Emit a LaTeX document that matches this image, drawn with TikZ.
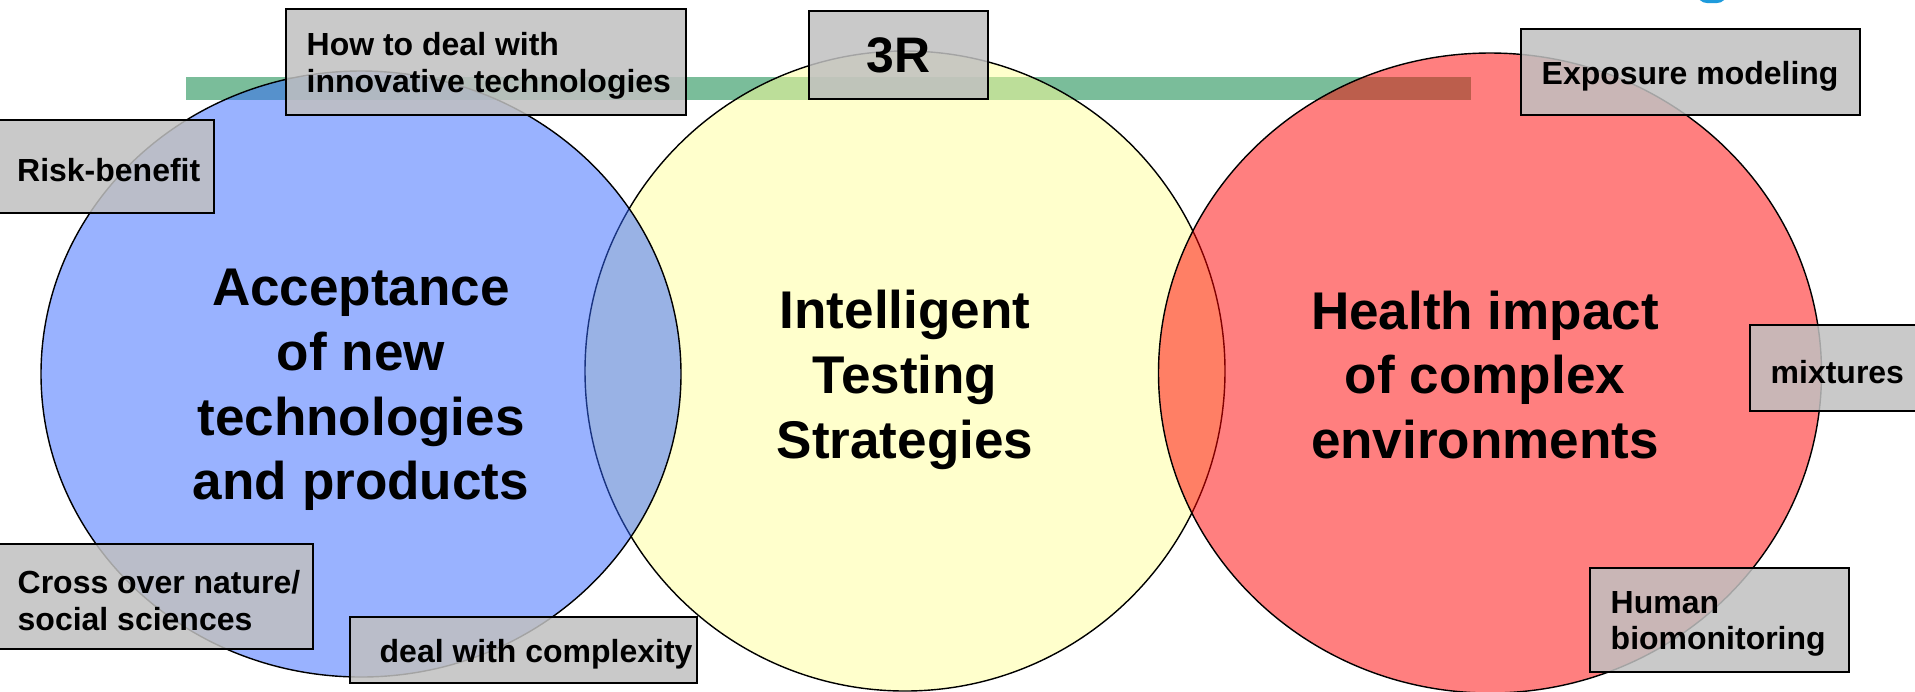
\documentclass[tikz,border=0pt]{standalone}
\usepackage{fontspec}
\setmainfont{Liberation Sans}
\usetikzlibrary{shapes.geometric,positioning}
\definecolor{barGreen}{HTML}{7ABD9A}
\definecolor{setBlue}{HTML}{3366FF}
\definecolor{setYellow}{HTML}{FFFF99}
\definecolor{setRed}{HTML}{FF0000}
\definecolor{tagGrey}{HTML}{C0C0C0}
\definecolor{logoBlue}{HTML}{1E9BDC}
\tikzset{
    bubble/.style={
        ellipse,
        draw=black,
        line width=0.4pt,
        fill opacity=0.5,
        inner sep=0pt,
    },
    title/.style={
        font=\bfseries\fontsize{15.1pt}{18.4pt}\selectfont,
        align=center,
    },
    tag/.style={
        draw=black,
        line width=0.5pt,
        fill=tagGrey,
        fill opacity=0.85,
        anchor=north west,
        inner sep=0pt,
    },
    tagtext/.style={
        font=\bfseries\fontsize{9.1pt}{10.5pt}\selectfont,
        align=left,
        inner sep=0pt,
        yshift=-0.4mm,
    },
}
\begin{document}
\begin{tikzpicture}[x=0.1mm,y=-0.1mm,node distance=2.1mm]
    \useasboundingbox (0,0) rectangle (1915,691);
    % bar and logo corner
    \fill[barGreen] (186,77) rectangle (1471,100);
    \fill[logoBlue, rounded corners=1mm] (1697,-20) rectangle (1727,3);
    % the three sets
    \node [bubble, fill=setYellow, minimum width=64mm, minimum height=64mm] (its) at (905,371) {};
    \node [bubble, fill=setBlue, minimum width=64mm, minimum height=60.6mm] (acc) at (361,374) {};
    \node [bubble, fill=setRed, minimum width=66.3mm, minimum height=64mm] (hea) at (1490,373) {};
    \node [title] (acc-txt) at (361,390) {Acceptance\\of new\\technologies\\and products};
    \node [title] (its-txt) at (905,380) {Intelligent\\Testing\\Strategies};
    \node [title] (hea-txt) at (1485,375) {Health impact\\of complex\\environments};
    % topic boxes
    \node [tag, minimum width=40mm, minimum height=10.6mm] (innov) at (285,8) {};
    \node [tag, minimum width=21.5mm, minimum height=9.3mm] (risk) at (-2,119) {};
    \node [tag, minimum width=17.9mm, minimum height=8.8mm] (threeR) at (808,10) {};
    \node [tag, minimum width=33.9mm, minimum height=8.6mm] (expo) at (1520,28) {};
    \node [tag, minimum width=19mm, minimum height=8.6mm] (mix) at (1749,324) {};
    \node [tag, minimum width=25.9mm, minimum height=10.4mm] (hbm) at (1589,567) {};
    \node [tag, minimum width=31.4mm, minimum height=10.5mm] (cross) at (-2,543) {};
    \node [tag, minimum width=34.7mm, minimum height=6.6mm] (cplx) at (349,616) {};
    % topic texts
    \node [tagtext, right=of innov.west] (innov-txt) {How to deal with\\innovative technologies};
    \node [tagtext, right=1.85mm of risk.west] (risk-txt) {Risk-benefit};
    \node [tagtext, yshift=0.4mm, font=\bfseries\fontsize{14.2pt}{16pt}\selectfont] (threeR-txt) at (threeR) {3R};
    \node [tagtext, right=of expo.west] (expo-txt) {Exposure modeling};
    \node [tagtext, right=of mix.west] (mix-txt) {mixtures};
    \node [tagtext, right=of hbm.west] (hbm-txt) {Human\\biomonitoring};
    \node [tagtext, right=1.9mm of cross.west] (cross-txt) {Cross over nature/\\social sciences};
    \node [tagtext, right=3mm of cplx.west] (cplx-txt) {deal with complexity};
\end{tikzpicture}
\end{document}
